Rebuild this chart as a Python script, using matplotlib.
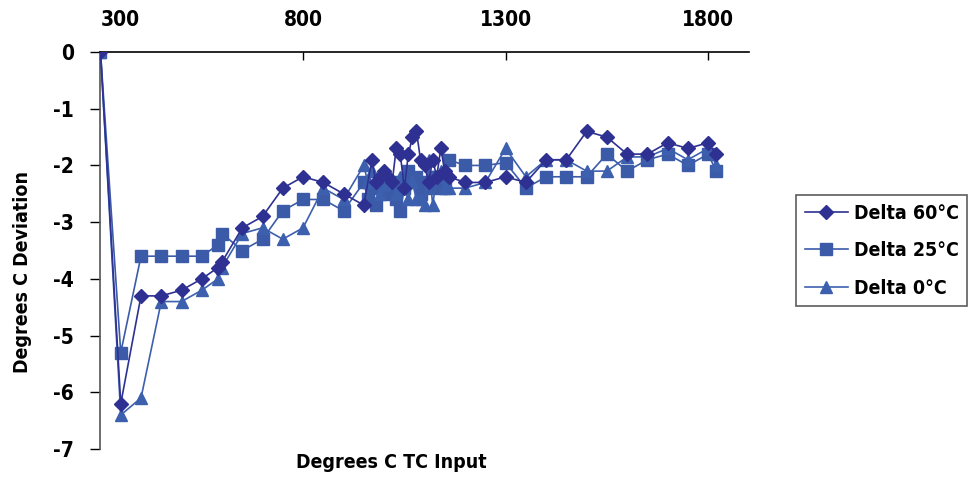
import numpy as np
import matplotlib.pyplot as plt

plt.rcParams['font.family'] = ['DejaVu Sans']
plt.rcParams['font.stretch'] = 'condensed'
plt.rcParams['font.weight'] = 'bold'
plt.rcParams['axes.unicode_minus'] = False

# Delta 60 C
x60 = [300, 350, 400, 450, 500, 550, 590, 600, 650, 700, 750, 800, 850, 900, 950,
       970, 980, 990, 1000, 1010, 1020, 1030, 1040, 1050, 1060, 1070, 1080, 1090,
       1100, 1110, 1120, 1130, 1140, 1150, 1160, 1200, 1250, 1300, 1350, 1400, 1450,
       1500, 1550, 1600, 1650, 1700, 1750, 1800, 1820]
y60 = [0, -6.2, -4.3, -4.3, -4.2, -4.0, -3.8, -3.7, -3.1, -2.9, -2.4, -2.2, -2.3, -2.5, -2.7,
       -1.9, -2.3, -2.2, -2.1, -2.2, -2.3, -1.7, -1.8, -2.4, -1.8, -1.5, -1.4, -1.9,
       -2.0, -2.3, -1.9, -2.2, -1.7, -2.1, -2.2, -2.3, -2.3, -2.2, -2.3, -1.9, -1.9,
       -1.4, -1.5, -1.8, -1.8, -1.6, -1.7, -1.6, -1.8]

# Delta 25 C
x25 = [300, 350, 400, 450, 500, 550, 590, 600, 650, 700, 750, 800, 850, 900, 950,
       960, 970, 980, 990, 1000, 1010, 1020, 1030, 1040, 1050, 1060, 1070, 1080, 1090,
       1100, 1110, 1120, 1130, 1140, 1150, 1160, 1200, 1250, 1300, 1350, 1400, 1450,
       1500, 1550, 1600, 1650, 1700, 1750, 1800, 1820]
y25 = [0, -5.3, -3.6, -3.6, -3.6, -3.6, -3.4, -3.2, -3.5, -3.3, -2.8, -2.6, -2.6, -2.8, -2.3,
       -2.6, -2.4, -2.7, -2.3, -2.4, -2.5, -2.3, -2.6, -2.8, -2.4, -2.1, -2.3, -2.2, -2.5,
       -2.3, -2.4, -2.2, -2.2, -2.4, -2.3, -1.9, -2.0, -2.0, -1.95, -2.4, -2.2, -2.2,
       -2.2, -1.8, -2.1, -1.9, -1.8, -2.0, -1.8, -2.1]

# Delta 0 C
x0 = [300, 350, 400, 450, 500, 550, 590, 600, 650, 700, 750, 800, 850, 900, 950,
      960, 970, 980, 990, 1000, 1010, 1020, 1030, 1040, 1050, 1060, 1070, 1080, 1090,
      1100, 1110, 1120, 1130, 1140, 1150, 1160, 1200, 1250, 1300, 1350, 1400, 1450,
      1500, 1550, 1600, 1650, 1700, 1750, 1800, 1820]
y0 = [0, -6.4, -6.1, -4.4, -4.4, -4.2, -4.0, -3.8, -3.2, -3.1, -3.3, -3.1, -2.4, -2.6, -2.0,
      -2.3, -2.1, -2.3, -2.5, -2.35, -2.2, -2.3, -2.5, -2.2, -2.4, -2.6, -2.3, -2.6, -2.6,
      -2.7, -1.9, -2.7, -2.2, -2.1, -2.4, -2.4, -2.4, -2.3, -1.7, -2.2, -1.9, -1.9,
      -2.1, -2.1, -1.85, -1.85, -1.7, -1.9, -1.7, -2.0]

xticks = [300, 800, 1300, 1800]
yticks = [0, -1, -2, -3, -4, -5, -6, -7]

fig = plt.figure(figsize=(9.71, 4.79), dpi=100)
ax = fig.add_axes([0.1035, 0.0626, 0.6675, 0.8288])

c60 = '#2E3192'
c25 = '#3B5BA8'
c0 = '#3D60AE'
ax.plot(x60, y60, color=c60, lw=1.2, marker='D', ms=7, label='Delta 60°C', zorder=3)
ax.plot(x25, y25, color=c25, lw=1.2, marker='s', ms=8.5, label='Delta 25°C', zorder=2)
ax.plot(x0, y0, color=c0, lw=1.2, marker='^', ms=9, label='Delta 0°C', zorder=2)

ax.set_xlim(300, 1900)
ax.set_ylim(-7, 0)
ax.set_xticks(xticks)
ax.set_yticks(yticks)
ax.xaxis.tick_top()
ax.tick_params(axis='x', direction='in', length=6, width=1, pad=16, labelsize=15)
ax.tick_params(axis='y', direction='out', length=7, width=1, pad=12, labelsize=15)
ax.get_xticklabels()[0].set_ha('left')
for s in ['bottom', 'right']:
    ax.spines[s].set_visible(False)
ax.spines['top'].set_linewidth(1.2)
ax.spines['left'].set_linewidth(1.2)
ax.spines['left'].set_color('#555555')

fig.text(0.403, 0.035, 'Degrees C TC Input', ha='center', va='center', fontsize=14, fontweight='bold')
fig.text(0.023, 0.433, 'Degrees C Deviation', ha='center', va='center', rotation=90,
         fontsize=14, fontweight='bold')

leg = ax.legend(loc='upper left', bbox_to_anchor=(0.82, 0.593), bbox_transform=fig.transFigure,
                borderaxespad=0, frameon=True, fancybox=False, fontsize=14, handlelength=2.2,
                labelspacing=0.95, borderpad=0.45, handletextpad=0.3)
leg.get_frame().set_edgecolor('#333333')
leg.get_frame().set_linewidth(1.2)

fig.savefig('out.png', dpi=100)
